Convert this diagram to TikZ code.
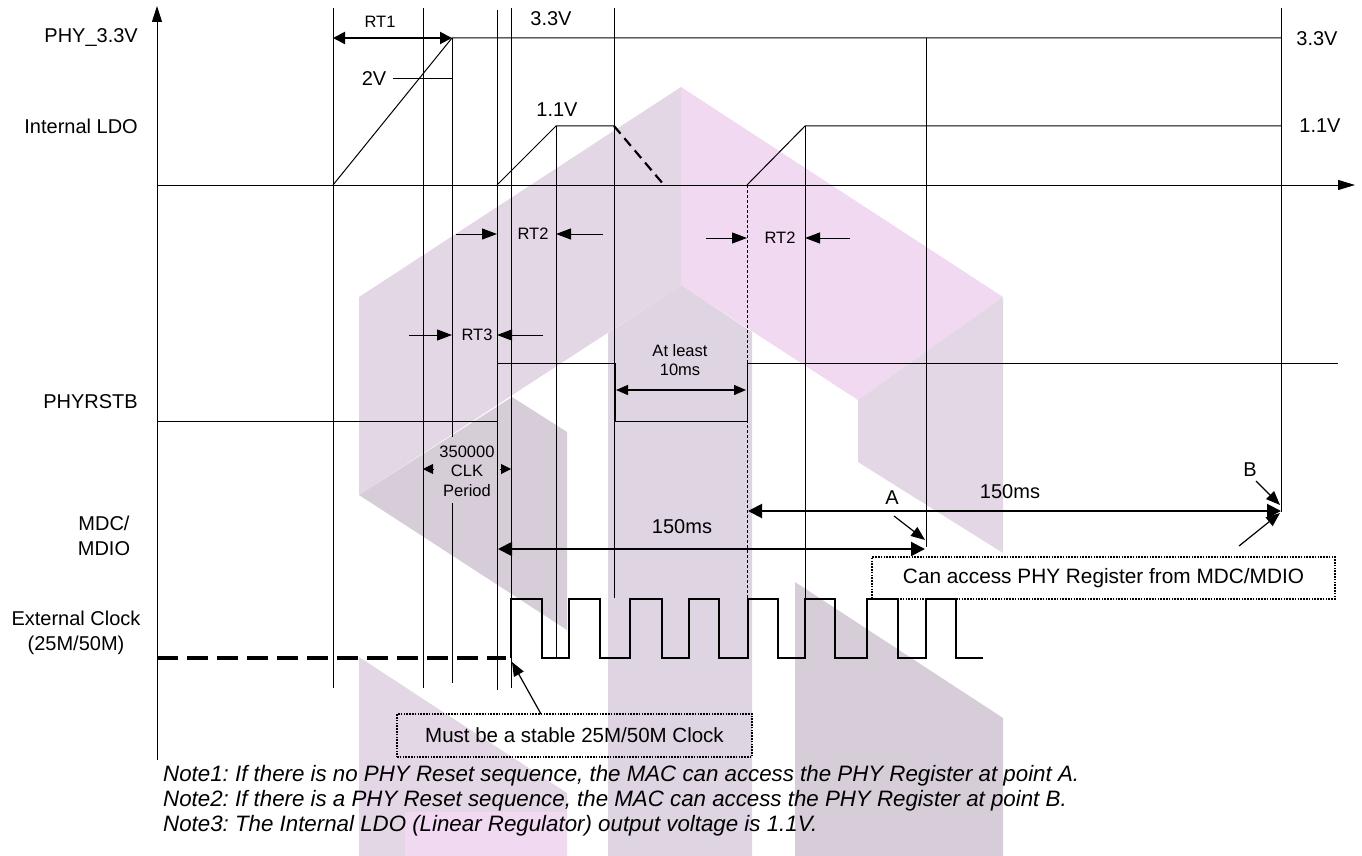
\documentclass[tikz,border=0pt]{standalone}
\usepackage{fontspec}
\setmainfont{Liberation Sans}
\usetikzlibrary{arrows.meta}
\definecolor{wmgray}{RGB}{227,215,229}
\definecolor{wmpink}{RGB}{241,217,241}
\definecolor{wmdark}{RGB}{214,205,217}
\definecolor{wmmid}{RGB}{223,212,225}
\frenchspacing
\begin{document}
\begin{tikzpicture}[x=1pt,y=-1pt,
  ln/.style={line width=1pt},
  lbl/.style={font=\fontsize{20}{24.5}\selectfont, inner sep=0pt, align=center},
  sm/.style={font=\fontsize{16.5}{19.5}\selectfont, inner sep=0pt, align=center},
  note/.style={font=\fontsize{22.3}{25}\selectfont\itshape, inner sep=0pt, anchor=west},
  rtarr/.style={-{Triangle[length=15pt,width=11pt]}, line width=1pt},
  dimarr/.style={{Triangle[length=14pt,width=14pt]}-{Triangle[length=14pt,width=14pt]}, line width=2pt},
  smallarr/.style={-{Triangle[length=10pt,width=10pt]}, line width=1pt},
  ptr/.style={-{Triangle[length=14pt,width=11pt]}, line width=1.2pt},
  clk/.style={line width=2.5pt, line join=miter},
  dbox/.style={draw, line width=1.8pt, dash pattern=on 1.6pt off 1.2pt, inner sep=0pt},
]
\useasboundingbox (0,0) rectangle (1362,856);
\fill[white] (0,0) rectangle (1362,856);

% ---- watermark ----
\fill[wmgray] (359,297) -- (681,87) -- (681,285) -- (359,495) -- cycle;
\fill[wmpink] (681,87) -- (1003,297) -- (858,400) -- (681,285) -- cycle;
\fill[wmgray] (858,400) -- (1003,297) -- (1003,553) -- (858,462) -- cycle;
\fill[wmmid] (608,333) -- (681,285) -- (752,332) -- (752,856) -- (608,856) -- cycle;
\fill[wmdark] (359,495) -- (512,397) -- (567,432) -- (567,630) -- cycle;
\fill[wmdark] (795,582) -- (1003,718) -- (1003,856) -- (795,856) -- cycle;
\fill[wmgray] (359,657) -- (567,793) -- (567,856) -- (359,856) -- cycle;
\fill[wmpink] (405,812) -- (567,812) -- (567,856) -- (405,856) -- cycle;

% ---- axes ----
\coordinate (yb) at (157,760); \coordinate (yt) at (157,6);
\draw[ln, -{Triangle[length=16pt,width=10pt]}] (yb) -- (yt);
\coordinate (t0) at (157,185); \coordinate (t1) at (1355,185);
\draw[ln, -{Triangle[length=17pt,width=10pt]}] (t0) -- (t1);

% ---- vertical guide lines ----
\draw[ln] (333,8) -- (333,688);
\draw[ln] (423,8) -- (423,688);
\draw[ln] (452,38) -- (452,437);
\draw[ln] (452,503) -- (452,683);
\draw[ln] (497,10) -- (497,690);
\draw[ln] (511,8) -- (511,688);
\draw[ln] (556,126) -- (556,657);
\draw[ln] (614,8) -- (614,598);
\draw[line width=1pt, dash pattern=on 3pt off 2pt] (747,185) -- (747,598);
\draw[ln] (805,126) -- (805,634);
\draw[ln] (926,38) -- (926,547);
\draw[ln] (1281,8) -- (1281,512);

% ---- PHY_3.3V ----
\draw[ln] (333,185) -- (452,38) -- (1281,38);
\draw[ln] (393,79) -- (452,79);
\coordinate (rt1a) at (333,38); \coordinate (rt1b) at (452,38);
\draw[{Triangle[length=12pt,width=12pt]}-{Triangle[length=12pt,width=12pt]}, line width=2pt] (rt1a) -- (rt1b);
\node[sm] (rt1) at (380,22) {RT1};
\node[lbl] (v2) at (374,79) {2V};
\node[lbl] (v33a) at (551,19) {3.3V};
\node[lbl] (v33b) at (1317,39) {3.3V};

% ---- Internal LDO ----
\draw[ln] (497,185) -- (556,126) -- (614,126);
\draw[line width=2.2pt, dash pattern=on 10pt off 6pt] (614,126) -- (664,185);
\draw[ln] (747,185) -- (805,126) -- (1281,126);
\node[lbl] (v11a) at (557,110) {1.1V};
\node[lbl] (v11b) at (1320,126) {1.1V};

% ---- RT2 / RT3 ----
\node[sm] (rt2a) at (533,234) {RT2};
\draw[rtarr] (456,234) -- (497,234);
\draw[rtarr] (603,234) -- (556,234);
\node[sm] (rt2b) at (780,238) {RT2};
\draw[rtarr] (706,238) -- (747,238);
\draw[rtarr] (850,238) -- (805,238);
\node[sm] (rt3) at (477,335) {RT3};
\draw[rtarr] (409,335) -- (452,335);
\draw[rtarr] (543,335) -- (497,335);

% ---- PHYRSTB ----
\draw[ln] (157,421) -| (497,363) -| (615,421) -| (747,363) -- (1338,363);
\node[sm] (least) at (680,360) {At least\\10ms};
\draw[{Triangle[length=12pt,width=10pt]}-{Triangle[length=12pt,width=10pt]}, line width=1.3pt] (616,390) -- (746,390);
\node[sm] (clkp) at (467,471) {350000\\CLK\\Period};
\draw[smallarr] (434,469) -- (423,469);
\draw[smallarr] (500,469) -- (511,469);

% ---- MDC/MDIO ----
\coordinate (m1a) at (498,549); \coordinate (m1b) at (925,549);
\draw[dimarr] (m1a) -- (m1b);
\node[lbl] (ms1) at (682,527) {150ms};
\coordinate (m2a) at (748,511); \coordinate (m2b) at (1281,511);
\draw[dimarr] (m2a) -- (m2b);
\node[lbl] (ms2) at (1010,492) {150ms};
\node[lbl] (pa) at (892,498) {A};
\draw[ptr] (894,516) -- (925,540);
\node[lbl] (pb) at (1250,470) {B};
\draw[ptr] (1256,481) -- (1280,505);
\coordinate (bx) at (1239,546);
\draw[ptr] (bx) -- (1280,513);
\node[dbox, minimum width=463pt, minimum height=42pt, font=\fontsize{20.8}{24}\selectfont] (can) at (1103.5,578) {Can access PHY Register from MDC/MDIO};

% ---- clock ----
\draw[line width=3.3pt, dash pattern=on 21pt off 9pt] (157,658) -- (506,658);
\draw[clk] (511,658) |- (542,599) |- (569,658) |- (600,599) |- (630,658) |- (662,599) |- (689,658) |- (719,599) |- (748,658) |- (778,599) |- (805,658) |- (835,599) |- (867,658) |- (898,599) |- (926,658) |- (956,599) |- (983,658);
\node[dbox, minimum width=355pt, minimum height=43pt, font=\fontsize{20.5}{24}\selectfont] (must) at (574.5,735.5) {Must be a stable 25M/50M Clock};
\coordinate (ce) at (512,662);
\draw[ptr] (541,714) -- (ce);

% ---- left labels ----
\node[lbl, anchor=east] (l1) at (138,38) {PHY\_3.3V};
\node[lbl, anchor=east] (l2) at (138,126) {Internal LDO};
\node[lbl, anchor=east] (l3) at (138,402) {PHYRSTB};
\node[lbl] (l4) at (104,536) {MDC/\\MDIO};
\node[lbl] (l5) at (76,633) {External Clock\\(25M/50M)};

% ---- notes ----
\node[note] (n1) at (163,776) {Note1: If there is no PHY Reset sequence, the MAC can access the PHY Register at point A.};
\node[note] (n2) at (163,801) {Note2: If there is a PHY Reset sequence, the MAC can access the PHY Register at point B.};
\node[note] (n3) at (163,826) {Note3: The Internal LDO (Linear Regulator) output voltage is 1.1V.};
\end{tikzpicture}
\end{document}
